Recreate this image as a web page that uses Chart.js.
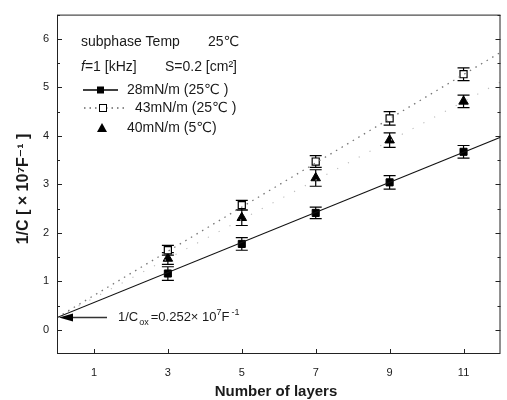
<!DOCTYPE html>
<html>
<head>
<meta charset="utf-8">
<script src="https://cdn.jsdelivr.net/npm/chart.js@4.4.1/dist/chart.umd.min.js"></script>
<style>
  html, body { margin: 0; padding: 0; background: #fff; }
  #wrap { width: 507px; height: 400px; }
</style>
</head>
<body>
<div id="wrap"><canvas id="capChart" width="507" height="400"></canvas></div>
<script>
// data
const layers = [3, 5, 7, 9, 11];
const c28 = [1.16, 1.77, 2.41, 3.04, 3.67];
const c28Err = [0.14, 0.13, 0.12, 0.14, 0.13];
const c43 = [1.64, 2.57, 3.47, 4.36, 5.27];
const c43Err = [0.1, 0.1, 0.12, 0.14, 0.13];
const c40 = [1.47, 2.31, 3.13, 3.91, 4.71];
const c40Err = [0.12, 0.16, 0.17, 0.15, 0.13];

// fitted lines (end points)
const fitX = [0, 12];
const fit28 = [0.252, 3.97];
const fit43 = [0.252, 5.72];
const fit40 = [0.252, 5.11];

const xTicks = [1, 3, 5, 7, 9, 11];
const yTicks = [0, 1, 2, 3, 4, 5, 6];
const cOx = 0.252;

const FONT = "'Liberation Sans', Arial, 'DejaVu Sans', sans-serif";
const INK = "#1a1a1a";

function pts(xs, ys) {
    return xs.map((x, i) => ({ x: x, y: ys[i] }));
}

// error bars, frame, inward ticks, titles, legend, annotation
const extrasPlugin = {
    id: "extrasPlugin",
    beforeDatasetsDraw(chart) {
        const ctx = chart.ctx;
        const xs = chart.scales.x, ys = chart.scales.y;
        ctx.save();
        ctx.strokeStyle = "#000";
        ctx.lineWidth = 1.2;
        [[c28, c28Err], [c43, c43Err], [c40, c40Err]].forEach(([vals, errs]) => {
            layers.forEach((lx, i) => {
                const px = xs.getPixelForValue(lx);
                const top = ys.getPixelForValue(vals[i] + errs[i]);
                const bot = ys.getPixelForValue(vals[i] - errs[i]);
                ctx.beginPath();
                ctx.moveTo(px, top); ctx.lineTo(px, bot);
                ctx.moveTo(px - 6, top); ctx.lineTo(px + 6, top);
                ctx.moveTo(px - 6, bot); ctx.lineTo(px + 6, bot);
                ctx.stroke();
            });
        });
        ctx.restore();
    },
    afterDraw(chart) {
        const ctx = chart.ctx;
        const a = chart.chartArea;
        const xs = chart.scales.x, ys = chart.scales.y;
        ctx.save();

        // frame
        ctx.strokeStyle = "#222";
        ctx.lineWidth = 1;
        ctx.strokeRect(a.left + 0.5, a.top + 0.5, a.right - a.left - 1, a.bottom - a.top - 1);

        // inward ticks
        ctx.beginPath();
        yTicks.forEach((v) => {
            const py = Math.round(ys.getPixelForValue(v)) + 0.5;
            ctx.moveTo(a.left, py); ctx.lineTo(a.left + 5, py);
            ctx.moveTo(a.right, py); ctx.lineTo(a.right - 5, py);
            const pm = Math.round(ys.getPixelForValue(v + 0.5)) + 0.5;
            ctx.moveTo(a.left, pm); ctx.lineTo(a.left + 3, pm);
            ctx.moveTo(a.right, pm); ctx.lineTo(a.right - 3, pm);
        });
        xTicks.forEach((v) => {
            const px = Math.round(xs.getPixelForValue(v)) + 0.5;
            ctx.moveTo(px, a.bottom); ctx.lineTo(px, a.bottom - 5);
        });
        ctx.stroke();

        // axis titles
        ctx.fillStyle = INK;
        ctx.font = "bold 15px " + FONT;
        ctx.textAlign = "center";
        ctx.textBaseline = "middle";
        ctx.fillText("Number of layers", 276, 392);
        ctx.save();
        ctx.translate(24, 189);
        ctx.rotate(-Math.PI / 2);
        ctx.font = "bold 16px " + FONT;
        ctx.fillText("1/C [ \u00d7 10\u2077F\u207b\u00b9 ]", 0, 0);
        ctx.restore();

        // legend block
        ctx.textAlign = "left";
        ctx.font = "14px " + FONT;
        ctx.fillText("subphase Temp", 81, 42);
        ctx.fillText("25\u2103", 208, 42);
        ctx.font = "italic 14px " + FONT;
        ctx.fillText("f", 81, 67);
        const w = ctx.measureText("f").width;
        ctx.font = "14px " + FONT;
        ctx.fillText("=1 [kHz]", 81 + w, 67);
        ctx.fillText("S=0.2 [cm\u00b2]", 165, 67);

        // entry 1: solid line + filled square
        ctx.strokeStyle = "#000";
        ctx.lineWidth = 1.3;
        ctx.beginPath();
        ctx.moveTo(83, 90); ctx.lineTo(118, 90);
        ctx.stroke();
        ctx.fillStyle = "#000";
        ctx.fillRect(97, 86.5, 7, 7);
        ctx.fillStyle = INK;
        ctx.fillText("28mN/m (25\u2103 )", 127, 90);

        // entry 2: dotted line + open square
        ctx.strokeStyle = "#666";
        ctx.setLineDash([1.5, 4]);
        ctx.beginPath();
        ctx.moveTo(84, 108); ctx.lineTo(126, 108);
        ctx.stroke();
        ctx.setLineDash([]);
        ctx.fillStyle = "#fff";
        ctx.strokeStyle = "#000";
        ctx.lineWidth = 1;
        ctx.fillRect(99, 104.5, 7, 7);
        ctx.strokeRect(99.5, 104.5, 7, 7);
        ctx.fillStyle = INK;
        ctx.fillText("43mN/m (25\u2103 )", 135, 108);

        // entry 3: triangle
        ctx.fillStyle = "#000";
        ctx.beginPath();
        ctx.moveTo(102, 123); ctx.lineTo(107, 132); ctx.lineTo(97, 132);
        ctx.closePath();
        ctx.fill();
        ctx.fillStyle = INK;
        ctx.fillText("40mN/m (5\u2103)", 127, 128);

        // 1/Cox arrow + label
        const ay = ys.getPixelForValue(cOx);
        const tipX = a.left + 2;
        ctx.strokeStyle = "#333";
        ctx.lineWidth = 1.5;
        ctx.beginPath();
        ctx.moveTo(tipX + 10, ay); ctx.lineTo(107, ay);
        ctx.stroke();
        ctx.fillStyle = "#000";
        ctx.beginPath();
        ctx.moveTo(tipX, ay); ctx.lineTo(tipX + 14, ay - 4); ctx.lineTo(tipX + 14, ay + 4);
        ctx.closePath();
        ctx.fill();

        ctx.fillStyle = INK;
        let x = 118;
        ctx.font = "13px " + FONT;
        ctx.fillText("1/C", x, ay);
        x += ctx.measureText("1/C").width;
        ctx.font = "9px " + FONT;
        ctx.fillText("ox", x + 1, ay + 5);
        x += ctx.measureText("ox").width + 3;
        ctx.font = "13px " + FONT;
        ctx.fillText("=0.252\u00d7 10", x, ay);
        x += ctx.measureText("=0.252\u00d7 10").width;
        ctx.font = "9px " + FONT;
        ctx.fillText("7", x, ay - 5);
        x += ctx.measureText("7").width;
        ctx.font = "13px " + FONT;
        ctx.fillText("F", x, ay);
        x += ctx.measureText("F").width + 2;
        ctx.font = "9px " + FONT;
        ctx.fillText("-1", x, ay - 5);

        ctx.restore();
    }
};

new Chart(document.getElementById("capChart").getContext("2d"), {
    type: "scatter",
    data: {
        datasets: [
            {
                type: "line",
                label: "fit 28",
                data: pts(fitX, fit28),
                borderColor: "#111",
                borderWidth: 1.2,
                pointRadius: 0,
                fill: false
            },
            {
                type: "line",
                label: "fit 43",
                data: pts(fitX, fit43),
                borderColor: "#777",
                borderWidth: 1.3,
                borderDash: [1.5, 5],
                pointRadius: 0,
                fill: false
            },
            {
                type: "line",
                label: "fit 40",
                data: pts(fitX, fit40),
                borderColor: "#bbb",
                borderWidth: 1.1,
                borderDash: [1.2, 11],
                pointRadius: 0,
                fill: false
            },
            {
                label: "28mN/m (25\u2103)",
                data: pts(layers, c28),
                pointStyle: "rect",
                pointRadius: 5,
                backgroundColor: "#000",
                borderColor: "#000",
                borderWidth: 1
            },
            {
                label: "43mN/m (25\u2103)",
                data: pts(layers, c43),
                pointStyle: "rect",
                pointRadius: 5,
                backgroundColor: "#fff",
                borderColor: "#000",
                borderWidth: 1.2
            },
            {
                label: "40mN/m (5\u2103)",
                data: pts(layers, c40),
                pointStyle: "triangle",
                pointRadius: 5.5,
                backgroundColor: "#000",
                borderColor: "#000",
                borderWidth: 1
            }
        ]
    },
    options: {
        responsive: false,
        animation: false,
        devicePixelRatio: 1,
        layout: { padding: { top: 10, right: 2, left: 0, bottom: 0 } },
        scales: {
            x: {
                type: "linear",
                min: 0,
                max: 12,
                afterBuildTicks: (s) => { s.ticks = xTicks.map((v) => ({ value: v })); },
                afterFit: (s) => { s.height = 46; },
                grid: { display: false, drawTicks: false },
                border: { display: false },
                ticks: { color: INK, font: { size: 11, family: FONT }, padding: 12 }
            },
            y: {
                type: "linear",
                min: -0.5,
                max: 6.5,
                afterBuildTicks: (s) => { s.ticks = yTicks.map((v) => ({ value: v })); },
                afterFit: (s) => { s.width = 57; },
                grid: { display: false, drawTicks: false },
                border: { display: false },
                ticks: { color: INK, font: { size: 11, family: FONT }, padding: 8 }
            }
        },
        plugins: {
            legend: { display: false },
            tooltip: { enabled: false }
        }
    },
    plugins: [extrasPlugin]
});
</script>
</body>
</html>
